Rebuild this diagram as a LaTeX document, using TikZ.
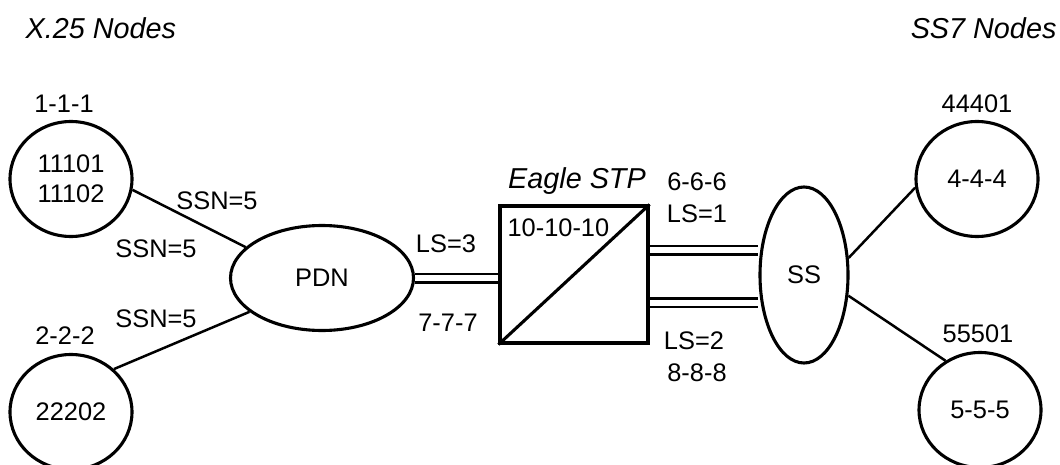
\documentclass[tikz,border=0pt]{standalone}
\usepackage{fontspec}
\setmainfont{Liberation Sans}
\usetikzlibrary{shapes.geometric,backgrounds,positioning}

\begin{document}
\begin{tikzpicture}[
    x=0.5pt, y=-0.5pt, line width=1.55pt,
    site/.style={ellipse, draw, fill=white, inner sep=0pt, minimum width=61pt, minimum height=57.5pt},
    cloud/.style={ellipse, draw, fill=white, inner sep=0pt},
    lbl/.style={font=\fontsize{12.7}{15}\selectfont, inner sep=0pt},
    head/.style={font=\fontsize{14.4}{17}\selectfont\itshape, inner sep=0pt},
    link/.style={line width=1.25pt},
    trunk/.style={link, double, double distance=3pt},
  ]
  \useasboundingbox (0,0) rectangle (1060,465);
  % headings
  \node[head, anchor=base west] (x25) at (24,39) {X.25 Nodes};
  \node[head, anchor=base east] (ss7) at (1058,39) {SS7 Nodes};
  % x.25 side
  \node[site, lbl, align=center] (c1) at (71,179) {11101\\11102};
  \node[site, lbl] (c2) at (71,412) {22202};
  \node[cloud, lbl, minimum width=91.5pt, minimum height=52.5pt] (pdn) at (322,278) {PDN};
  \node[lbl, above=2.75pt of c1, xshift=-3.5pt] (pc1) {1-1-1};
  \node[lbl, above=3.5pt of c2, xshift=-3pt] (pc2) {2-2-2};
  % stp
  \node[draw, fill=white, minimum width=74pt, minimum height=68.5pt, inner sep=0pt] (stp) at (574,274.5) {};
  \draw (stp.south west) -- (stp.north east);
  \node[head, anchor=base] (eagle) at (577,188) {Eagle STP};
  \node[lbl, anchor=base west] (pc3) at (506,236) {10-10-10};
  % ss7 side
  \node[cloud, lbl, minimum width=44pt, minimum height=88pt] (ss) at (804,275) {SS};
  \node[site, lbl] (c4) at (977,179) {4-4-4};
  \node[site, lbl] (c5) at (980,410) {5-5-5};
  \node[lbl, above=2.75pt of c4] (gt4) {44401};
  \node[lbl, above=3.5pt of c5, xshift=-1pt] (gt5) {55501};
  % link labels
  \node[lbl, anchor=base] (ssn1) at (217,209) {SSN=5};
  \node[lbl, anchor=base] (ssn2) at (156,257) {SSN=5};
  \node[lbl, anchor=base] (ssn3) at (156,327) {SSN=5};
  \node[lbl, anchor=base] (ls3) at (446,252) {LS=3};
  \node[lbl, anchor=base] (pc7) at (448,331) {7-7-7};
  \node[lbl, anchor=base] (pc6) at (697,191) {6-6-6};
  \node[lbl, anchor=base] (ls1) at (697,222) {LS=1};
  \node[lbl, anchor=base] (ls2) at (694,349) {LS=2};
  \node[lbl, anchor=base] (pc8) at (697,381) {8-8-8};
  % links
  \begin{pgfonlayer}{background}
    \draw[link] (c1.-10) -- (pdn.158);
    \draw[link] (c2.45) -- (pdn.205);
    \draw[trunk] (pdn.east) -- (pdn.east -| stp.west);
    \draw[trunk] ([yshift=12.25pt]stp.east) -- ([yshift=12.25pt]stp.east -| ss.west);
    \draw[trunk] ([yshift=-14pt]stp.east) -- ([yshift=-14pt]stp.east -| ss.west);
    \draw[link] (ss.21) -- (c4.188);
    \draw[link] (ss.-25) -- (c5.125);
  \end{pgfonlayer}
\end{tikzpicture}
\end{document}
